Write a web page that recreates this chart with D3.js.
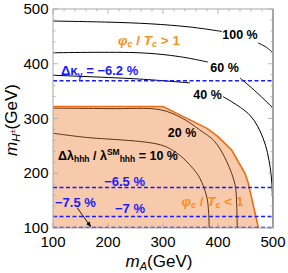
<!DOCTYPE html>
<html><head><meta charset="utf-8">
<script src="https://cdn.jsdelivr.net/npm/d3@7"></script>
<style>body{margin:0;background:#fff}svg{display:block}text{font-family:"Liberation Sans",Arial,sans-serif}</style>
</head><body><svg id="c" width="288" height="273"></svg>
<script>
// ---- data ----
const xTicks = [100, 200, 300, 400, 500];
const yTicks = [100, 200, 300, 400, 500];
const contour100 = [[[100,478],[200,476],[276,473],[350,467],[407,459]], [[473,438],[488,430],[500,420]]];
const contour60  = [[[100,420],[258,420],[330,413],[382,403]], [[440,374],[470,348],[500,319]]];
const contour40  = [[[100,379],[258,372],[349,365]], [[409,340],[458,306],[482,264],[495,210],[499.3,150],[500,100]]];
const contour20  = [[[100,319],[204,318],[295,316],[334,301],[367,279],[394,258],[416,221],[431,179],[434,142],[435,100]]];
const contour10  = [[[100,273],[155,266],[295,252],[325,237],[349,215],[367,191],[380,155],[383,127],[384,100]]];
const ptBoundary = [[100,322],[300,322],[340,302],[380,282],[400,267],[425,242],[449,200],[455,182],[473.5,100]];
const kappaLevels = [369, 174, 121, 101];
const kappaLabels = ["\u22126.2 %", "\u22126.5 %", "\u22127 %", "\u22127.5 %"];
const contourLabels = ["100 %", "60 %", "40 %", "20 %"];

// ---- scales ----
const x = d3.scaleLinear().domain([100, 500]).range([53, 273]);
const y = d3.scaleLinear().domain([100, 500]).range([228, 9]);
const svg = d3.select("#c");

svg.append("clipPath").attr("id","clip").append("rect")
  .attr("x", x(100)).attr("y", y(500)).attr("width", x(500)-x(100)).attr("height", y(100)-y(500));
const g = svg.append("g").attr("clip-path","url(#clip)");

const line = d3.line().x(d=>x(d[0])).y(d=>y(d[1])).curve(d3.curveCatmullRom.alpha(0.5));
const lin = d3.line().x(d=>x(d[0])).y(d=>y(d[1]));

// contours (underneath the shaded region)
[contour100, contour60, contour40, contour20, contour10].forEach(c => {
  c.forEach(seg => g.append("path").attr("d", line(seg)).attr("fill","none")
    .attr("stroke","#000").attr("stroke-width",1));
});

// shaded region
const region = ptBoundary.concat([[100,100]]);
g.append("path").attr("d", lin(region) + "Z").attr("fill","#ee7a30").attr("fill-opacity",0.4).attr("stroke","none");
g.append("path").attr("d", lin(ptBoundary)).attr("fill","none").attr("stroke","#f06a10").attr("stroke-width",1.6);

// dashed kappa lines
kappaLevels.forEach(v => {
  g.append("line").attr("x1", x(100)).attr("x2", x(500)).attr("y1", y(v)).attr("y2", y(v))
    .attr("stroke","#1a1aff").attr("stroke-width",1.4).attr("stroke-dasharray","4,2.5");
});

// frame and ticks
const frameCol = "#a8a8a8";
svg.append("rect").attr("x", x(100)).attr("y", y(500)).attr("width", x(500)-x(100)).attr("height", y(100)-y(500))
  .attr("fill","none").attr("stroke",frameCol).attr("stroke-width",1);
svg.append("line").attr("x1",x(500)).attr("x2",x(500)).attr("y1",y(500)).attr("y2",y(100)).attr("stroke","#999").attr("stroke-width",1.6);
const minor = d3.range(100, 501, 20);
const tk = svg.append("g").attr("stroke", frameCol).attr("stroke-width", 0.8);
minor.forEach(v => {
  const L = (v % 100 === 0) ? 5 : 2.5;
  tk.append("line").attr("x1",x(v)).attr("x2",x(v)).attr("y1",y(100)).attr("y2",y(100)-L);
  tk.append("line").attr("x1",x(v)).attr("x2",x(v)).attr("y1",y(500)).attr("y2",y(500)+L);
  tk.append("line").attr("y1",y(v)).attr("y2",y(v)).attr("x1",x(100)).attr("x2",x(100)+L);
  tk.append("line").attr("y1",y(v)).attr("y2",y(v)).attr("x1",x(500)).attr("x2",x(500)-L);
});

// tick labels
xTicks.forEach(v => svg.append("text").attr("x", x(v)).attr("y", 246.5).attr("text-anchor","middle")
  .attr("font-size",15).text(v));
yTicks.forEach(v => svg.append("text").attr("x", 48.5).attr("y", y(v)).attr("dy","0.34em").attr("text-anchor","end")
  .attr("font-size",15).text(v));

// axis titles
const xt = svg.append("text").attr("x", 159).attr("y", 267).attr("text-anchor","middle").attr("font-size",17);
xt.append("tspan").attr("font-style","italic").text("m");
xt.append("tspan").attr("font-style","italic").attr("font-size",11).attr("dy",3).text("A");
xt.append("tspan").attr("dy",-3).text("(GeV)");
const yt = svg.append("text").attr("transform","translate(17,120) rotate(-90)").attr("text-anchor","middle").attr("font-size",17);
yt.append("tspan").attr("font-style","italic").text("m");
yt.append("tspan").attr("font-style","italic").attr("font-size",11).attr("dy",3).text("H");
yt.append("tspan").attr("font-size",8).attr("dy",-5).text("\u00b1");
yt.append("tspan").attr("dy",2).text("(GeV)");

// contour labels
const cl = [[240,38.5],[224.5,71.5],[207.5,98.5],[182,136.5]];
contourLabels.forEach((t,i) => svg.append("text").attr("x", cl[i][0]).attr("y", cl[i][1]).attr("text-anchor","middle")
  .attr("font-size",12.5).attr("font-weight","bold").attr("fill","#000").text(t));

// lambda label
const ll = svg.append("text").attr("x",58).attr("y",159.5).attr("font-size",12.5).attr("font-weight","bold");
ll.append("tspan").text("\u0394\u03bb");
ll.append("tspan").attr("font-size",8.5).attr("dy",2.5).text("hhh");
ll.append("tspan").attr("dy",-2.5).text(" / \u03bb");
ll.append("tspan").attr("font-size",8.5).attr("dy",-5).text("SM");
ll.append("tspan").attr("font-size",8.5).attr("dy",7.5).text("hhh");
ll.append("tspan").attr("dy",-2.5).text(" = 10 %");

// phase transition labels
const orangeText = "#f7901e";
function phiLabel(px, py, sym) {
  const t = svg.append("text").attr("x",px).attr("y",py).attr("font-size",13.5).attr("font-weight","bold").attr("fill",orangeText);
  t.append("tspan").attr("font-style","italic").text("\u03c6");
  t.append("tspan").attr("font-style","italic").attr("font-size",9).attr("dy",2.5).text("c");
  t.append("tspan").attr("dy",-2.5).text(" / ");
  t.append("tspan").attr("font-style","italic").text("T");
  t.append("tspan").attr("font-style","italic").attr("font-size",9).attr("dy",2.5).text("c");
  t.append("tspan").attr("dy",-2.5).text(" " + sym + " 1");
}
phiLabel(118, 44.5, ">");
phiLabel(181.5, 205.5, "<");

// kappa labels
const blueText = "#1a1aff";
const k0 = svg.append("text").attr("x",61).attr("y",74.5).attr("font-size",13).attr("font-weight","bold").attr("fill",blueText);
k0.append("tspan").text("\u0394\u03ba");
k0.append("tspan").attr("font-size",9).attr("dy",3).text("\u03b3");
k0.append("tspan").attr("dy",-3).text(" = " + kappaLabels[0]);
svg.append("text").attr("x",145).attr("y",185.5).attr("text-anchor","end").attr("font-size",13).attr("font-weight","bold").attr("fill",blueText).text(kappaLabels[1]);
svg.append("text").attr("x",145).attr("y",212.5).attr("text-anchor","end").attr("font-size",13).attr("font-weight","bold").attr("fill",blueText).text(kappaLabels[2]);
svg.append("text").attr("x",55).attr("y",206.5).attr("font-size",13).attr("font-weight","bold").attr("fill",blueText).text(kappaLabels[3]);

// arrow
svg.append("defs").append("marker").attr("id","ah").attr("viewBox","0 0 10 10").attr("refX",9).attr("refY",5)
  .attr("markerWidth",6).attr("markerHeight",6).attr("orient","auto")
  .append("path").attr("d","M0,1L10,5L0,9Z").attr("fill","#000");
svg.append("line").attr("x1",x(144)).attr("y1",y(137)).attr("x2",x(168.5)).attr("y2",y(102.5))
  .attr("stroke","#000").attr("stroke-width",0.9).attr("marker-end","url(#ah)");
</script></body></html>
